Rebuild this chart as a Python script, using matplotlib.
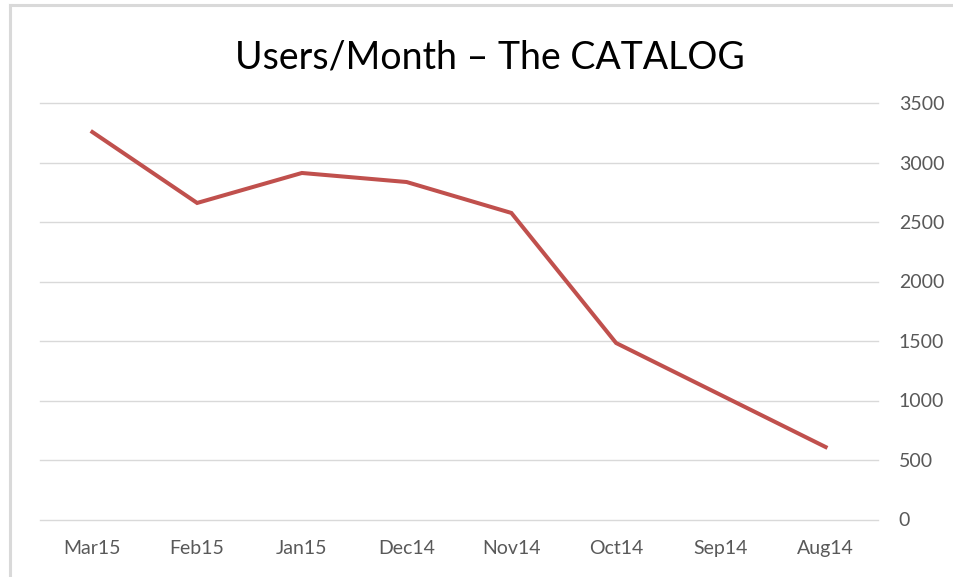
import matplotlib.pyplot as plt
from matplotlib.lines import Line2D

# Users per month, newest first
months = ['Mar15', 'Feb15', 'Jan15', 'Dec14', 'Nov14', 'Oct14', 'Sep14', 'Aug14']
users = [3256, 2660, 2912, 2836, 2576, 1483, 1046, 609]
y_ticks = [0, 500, 1000, 1500, 2000, 2500, 3000, 3500]

plt.rcParams['font.family'] = ['Lato', 'DejaVu Sans']

fig = plt.figure(figsize=(9.54, 5.77), dpi=100)
ax = fig.add_axes([40 / 954, 1 - 519.5 / 577, 838 / 954, 416.5 / 577])

x = list(range(len(months)))
ax.plot(x, users, color='#C0504D', linewidth=2.9, solid_joinstyle='miter', zorder=3)

ax.set_xlim(-0.5, len(months) - 0.5)
ax.set_ylim(0, 3500)
ax.set_xticks(x)
ax.set_xticklabels(months)
ax.set_yticks(y_ticks)
ax.set_yticklabels([str(v) for v in y_ticks])

ax.yaxis.tick_right()
ax.tick_params(axis='both', length=0, colors='#595959', labelsize=14)
ax.tick_params(axis='x', pad=15)
ax.tick_params(axis='y', pad=15)
for lbl in ax.get_yticklabels():
    lbl.set_horizontalalignment('left')

ax.grid(axis='y', color='#D9D9D9', linewidth=1.0)
for gl in ax.yaxis.get_gridlines():
    gl.set_clip_on(False)
ax.set_axisbelow(True)
for s in ax.spines.values():
    s.set_visible(False)

fig.text(490 / 954, 1 - 58 / 577, 'Users/Month \u2013 The CATALOG', ha='center', va='center',
         fontsize=27, color='black')

# light frame on the top and left edge
fig.add_artist(Line2D([10.5 / 954, 1], [1 - 5 / 577, 1 - 5 / 577], color='#D9D9D9', linewidth=2.2))
fig.add_artist(Line2D([10.5 / 954, 10.5 / 954], [0, 1 - 5 / 577], color='#D9D9D9', linewidth=2.2))

fig.savefig('out.png', dpi=100)
